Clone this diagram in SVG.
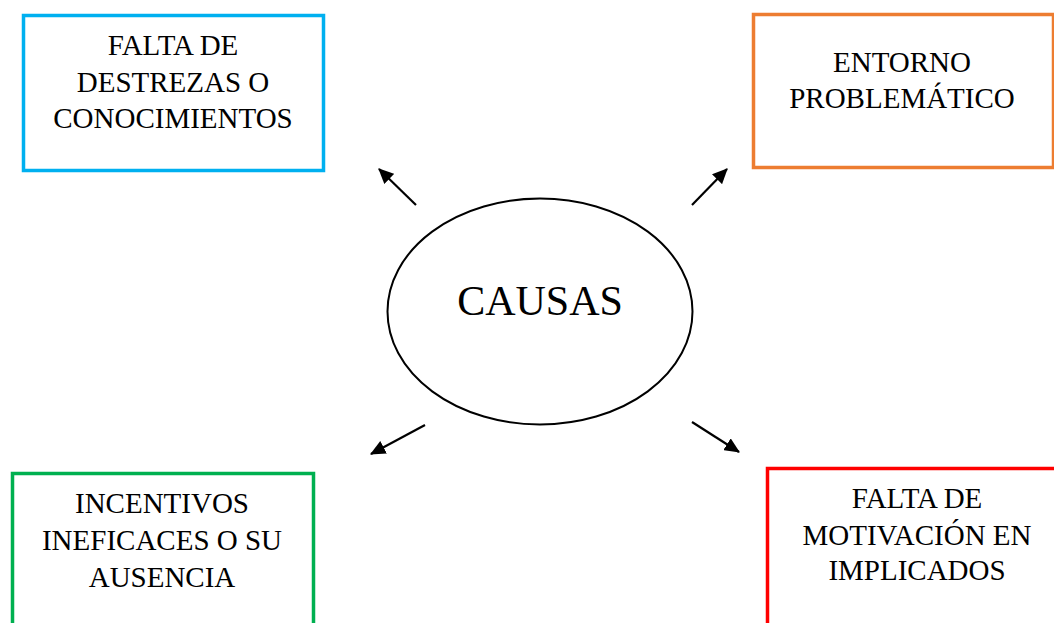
<svg xmlns="http://www.w3.org/2000/svg" width="1054" height="623" viewBox="0 0 1054 623">
<style>
.box{fill:#fff;stroke-width:3.5}
.t{font-family:"Liberation Serif","Times New Roman",serif;font-size:29px;fill:#000;text-anchor:middle}
.c{font-family:"Liberation Serif","Times New Roman",serif;font-size:42px;fill:#000;text-anchor:middle}
.a{stroke:#000;stroke-width:2.2;fill:none;marker-end:url(#ah)}
</style>
<defs>
<marker id="ah" markerWidth="7" markerHeight="6.4" refX="6.5" refY="3.2" orient="auto" markerUnits="strokeWidth">
<path d="M0,0 L7,3.2 L0,6.4 Z" fill="#000"/>
</marker>
</defs>
<rect width="1054" height="623" fill="#fff"/>
<g id="node-destrezas">
<rect class="box" x="23.5" y="15.5" width="300" height="155" stroke="#00B0F0"/>
<text class="t" x="173" y="55">FALTA DE</text>
<text class="t" x="173" y="92">DESTREZAS O</text>
<text class="t" x="173" y="128">CONOCIMIENTOS</text>
</g>
<g id="node-entorno">
<rect class="box" x="753.5" y="14.5" width="300" height="153" stroke="#ED7D31"/>
<text class="t" x="902" y="72">ENTORNO</text>
<text class="t" x="902" y="108">PROBLEMÁTICO</text>
</g>
<g id="node-incentivos">
<rect class="box" x="12.5" y="473.5" width="301" height="160" stroke="#00B050"/>
<text class="t" x="162" y="513">INCENTIVOS</text>
<text class="t" x="162" y="550">INEFICACES O SU</text>
<text class="t" x="162" y="587">AUSENCIA</text>
</g>
<g id="node-motivacion">
<rect class="box" x="767.5" y="468.5" width="302" height="165" stroke="#FF0000"/>
<text class="t" x="917" y="508">FALTA DE</text>
<text class="t" x="917" y="545">MOTIVACIÓN EN</text>
<text class="t" x="917" y="580">IMPLICADOS</text>
</g>
<g id="node-causas">
<ellipse cx="540" cy="311.5" rx="152.5" ry="113" fill="#fff" stroke="#000" stroke-width="2"/>
<text class="c" x="540" y="315">CAUSAS</text>
</g>
<g id="connectors">
<line class="a" x1="416" y1="205" x2="379" y2="169"/>
<line class="a" x1="692" y1="205" x2="727" y2="169"/>
<line class="a" x1="425" y1="425" x2="371" y2="454"/>
<line class="a" x1="692" y1="422" x2="739" y2="452"/>
</g>
</svg>
